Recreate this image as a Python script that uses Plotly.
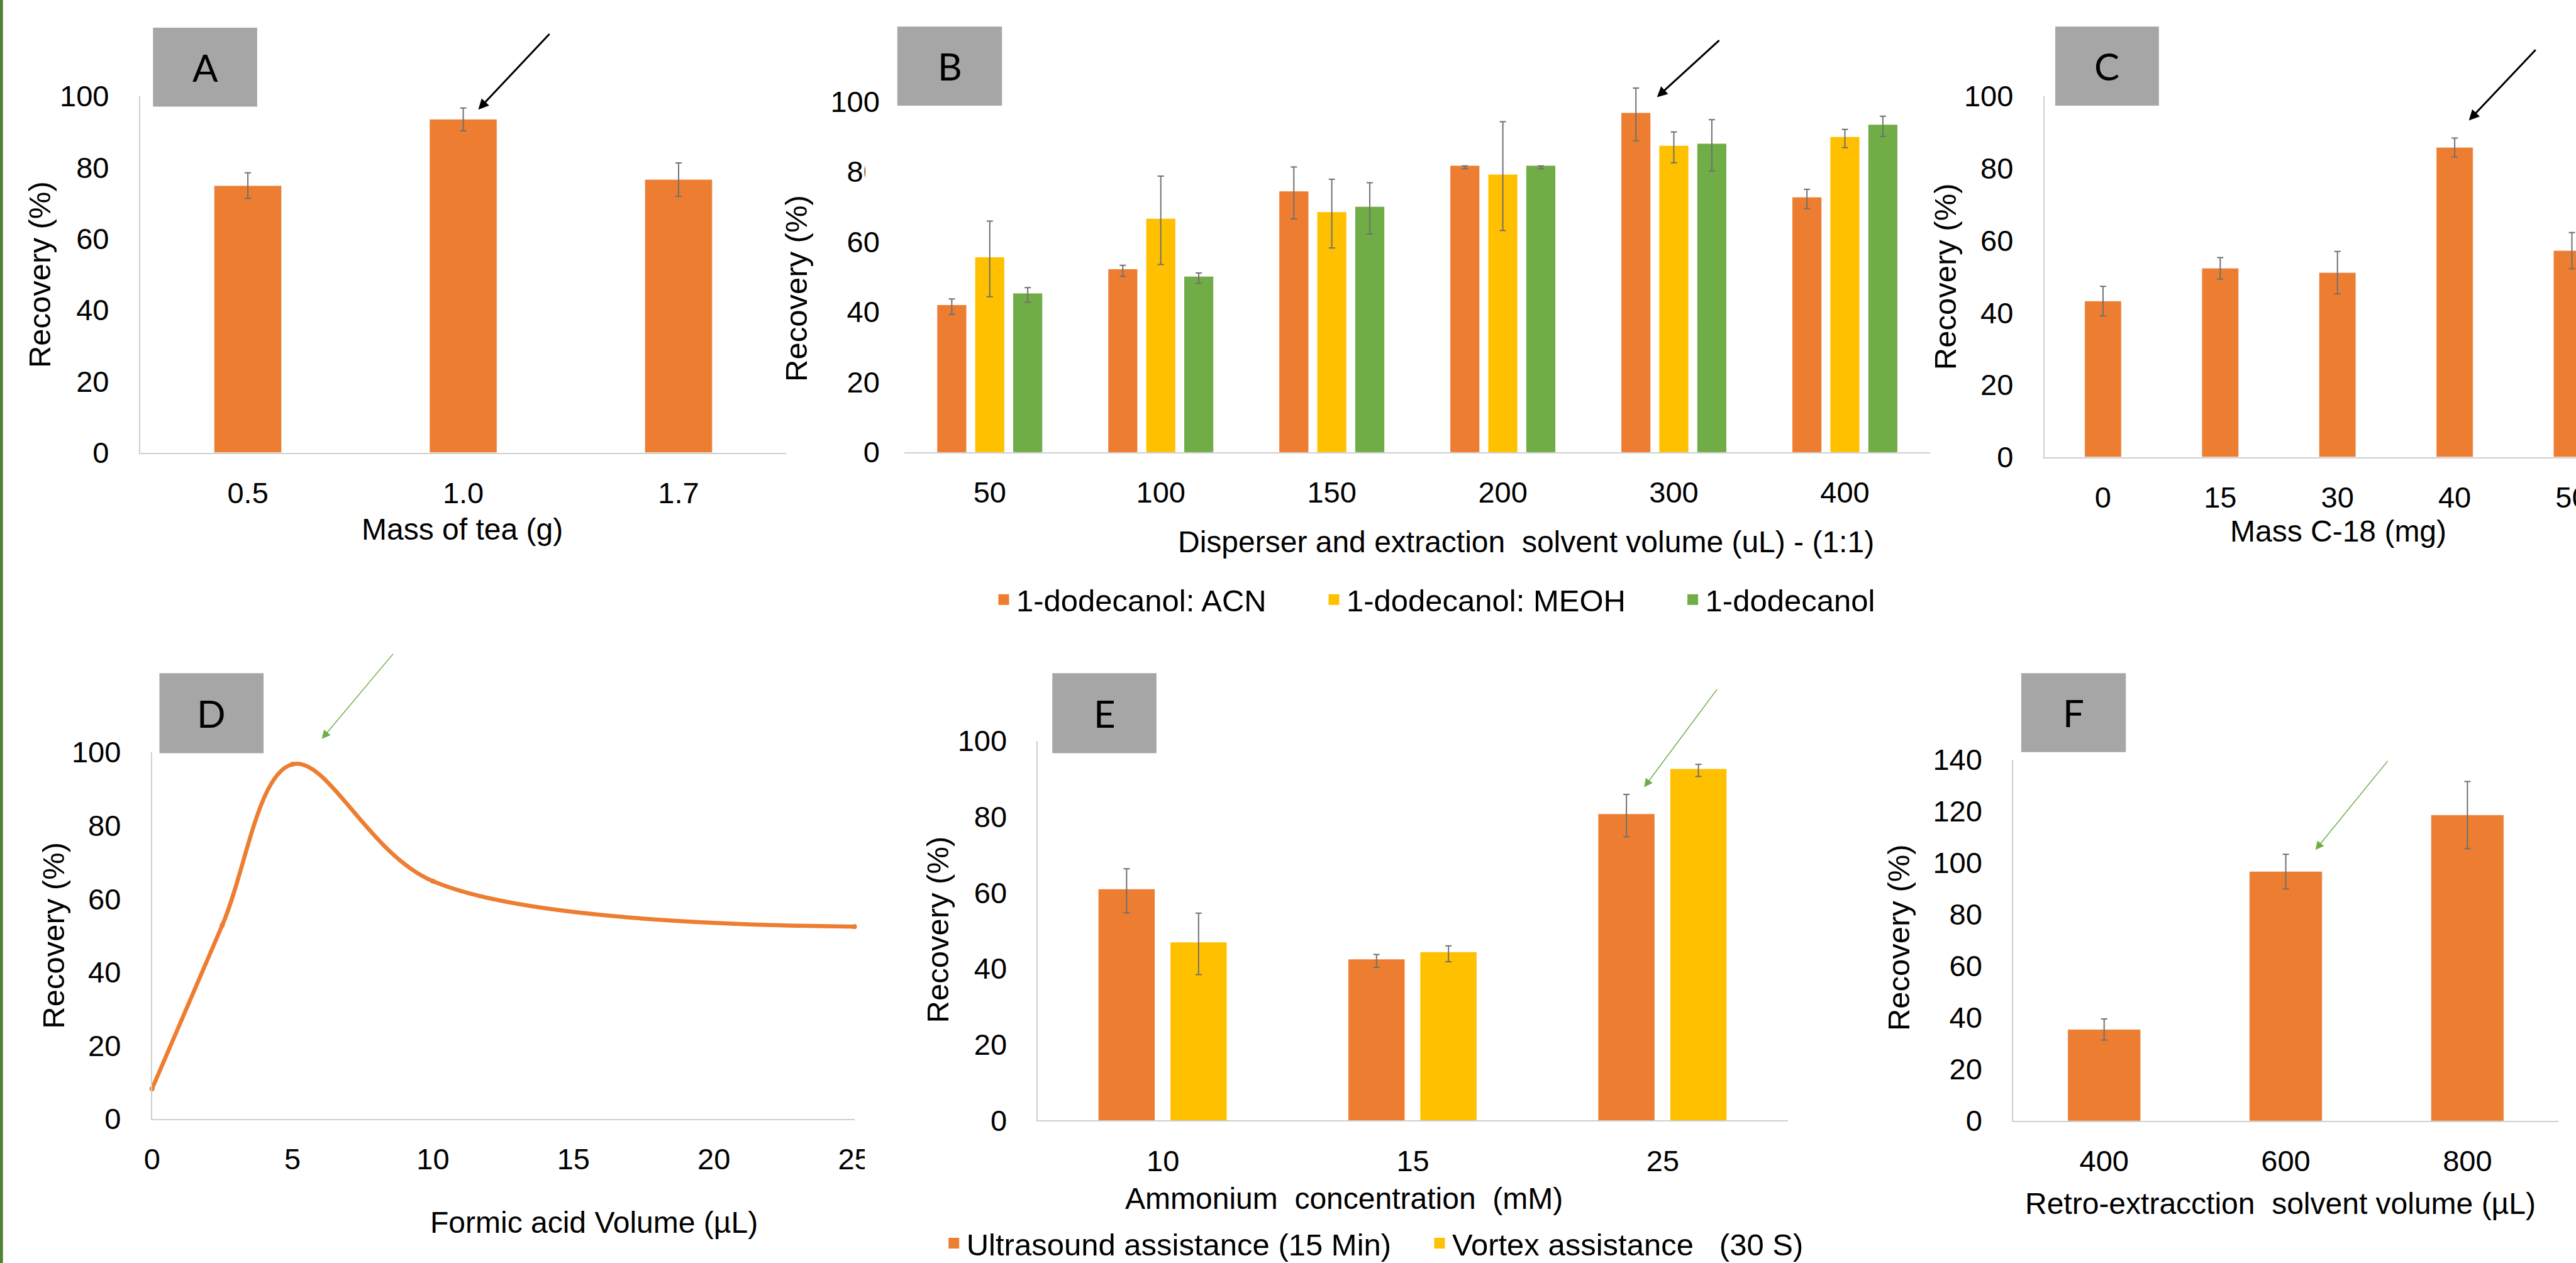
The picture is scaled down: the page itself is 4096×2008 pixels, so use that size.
import plotly.graph_objects as go

# ---------------- data ----------------
tea_mass = ["0.5", "1.0", "1.7"]
tea_recovery = [74.9, 93.5, 76.6]
tea_err = [3.6, 3.2, 4.7]

volume_cats = ["50", "100", "150", "200", "300", "400"]
acn_recovery = [41.5, 51.7, 73.9, 81.2, 96.3, 72.2]
acn_err = [2.2, 1.6, 7.4, 0.4, 7.5, 2.75]
meoh_recovery = [55.1, 66.1, 68.0, 78.7, 86.9, 89.4]
meoh_err = [10.8, 12.6, 9.8, 15.5, 4.4, 2.6]
dodec_recovery = [44.8, 49.6, 69.5, 81.2, 87.5, 92.9]
dodec_err = [2.1, 1.5, 7.3, 0.4, 7.3, 2.9]

c18_mass = ["0", "15", "30", "40", "50"]
c18_recovery = [43.2, 52.3, 51.1, 85.8, 57.2]
c18_err = [4.1, 3.0, 5.9, 2.6, 5.0]

formic_volume = [0, 2.5, 5, 10, 25]
formic_recovery = [8.2, 52.8, 96.7, 64.8, 52.4]

ammonium_cats = ["10", "15", "25"]
ultrasound_recovery = [60.5, 42.0, 80.3]
ultrasound_err = [5.8, 1.7, 5.6]
vortex_recovery = [46.5, 43.9, 92.2]
vortex_err = [8.1, 2.1, 1.6]

retro_volume = ["400", "600", "800"]
retro_recovery = [35.4, 96.6, 118.5]
retro_err = [4.1, 6.7, 13.0]

# ---------------- geometry helpers (reference pixel space) ----------------
W, H = 5219, 2559
S = 4096 / W


def px(v):
    return v * S


def fx(x):
    return x / W


def fy(y):
    return 1 - y / H


ORANGE = "#ED7D31"
YELLOW = "#FFC000"
GREEN = "#70AD47"
BOXGREY = "#A6A6A6"
AXIS = "#CFCFCF"
ERRC = "#707070"
FONT = "Liberation Sans, Arial, sans-serif"
TICK_SIZE = 47
TITLE_SIZE = 48
LEG_LINE = 5  # legend swatch enlargement (outline in same colour)


def err(arr):
    return dict(type="data", array=arr, visible=True, color=ERRC,
                thickness=2, width=5)


fig = go.Figure()

# A
fig.add_trace(go.Bar(x=tea_mass, y=tea_recovery, error_y=err(tea_err),
                     marker_color=ORANGE, width=0.312, offset=-0.156,
                     showlegend=False, xaxis="x", yaxis="y"))
# B  (category width = 2079/6 ref px)
b_cat_px = px((3911 - 1832) / 6)
b_shrink = LEG_LINE / b_cat_px
for name, vals, errs, col, off, lw in [
        ("1-dodecanol: ACN", acn_recovery, acn_err, ORANGE, -0.307, px(669) - 45),
        ("1-dodecanol: MEOH", meoh_recovery, meoh_err, YELLOW, -0.085, px(727) - 45),
        ("1-dodecanol", dodec_recovery, dodec_err, GREEN, 0.137, None)]:
    fig.add_trace(go.Bar(x=volume_cats, y=vals, error_y=err(errs), name=name,
                         marker=dict(color=col, line=dict(color=col, width=LEG_LINE)),
                         width=0.170 - b_shrink, offset=off + b_shrink / 2,
                         legend="legend", legendwidth=lw, xaxis="x2", yaxis="y2"))
# C
fig.add_trace(go.Bar(x=c18_mass, y=c18_recovery, error_y=err(c18_err),
                     marker_color=ORANGE, width=0.312, offset=-0.156,
                     showlegend=False, xaxis="x3", yaxis="y3"))
# D
fig.add_trace(go.Scatter(x=formic_volume, y=formic_recovery, mode="lines+markers",
                         line=dict(color=ORANGE, width=6.5, shape="spline", smoothing=1.0),
                         marker=dict(color=ORANGE, size=8),
                         cliponaxis=False, showlegend=False, xaxis="x4", yaxis="y4"))
# E
e_cat_px = px((3622 - 2103) / 3)
e_shrink = LEG_LINE / e_cat_px
for name, vals, errs, col, off, lw in [
        ("Ultrasound assistance (15 Min)", ultrasound_recovery, ultrasound_err, ORANGE, -0.258,
         px(984) - 45),
        ("Vortex assistance\u00a0\u00a0\u00a0(30 S)", vortex_recovery, vortex_err, YELLOW, 0.030,
         None)]:
    fig.add_trace(go.Bar(x=ammonium_cats, y=vals, error_y=err(errs), name=name,
                         marker=dict(color=col, line=dict(color=col, width=LEG_LINE)),
                         width=0.225 - e_shrink, offset=off + e_shrink / 2,
                         legend="legend2", legendwidth=lw, xaxis="x5", yaxis="y5"))
# F
fig.add_trace(go.Bar(x=retro_volume, y=retro_recovery, error_y=err(retro_err),
                     marker_color=ORANGE, width=0.40, offset=-0.2,
                     showlegend=False, xaxis="x6", yaxis="y6"))

# ---------------- axes ----------------
panels = [
    # key, x-left, x-right, y-top, y-bottom, xtype, xrange, yrange, ytick step, show y line
    ("", 284, 1593, 195, 917, "category", [-0.5, 2.5], [0, 100], 20, True),
    ("2", 1832, 3911, 170, 916, "category", [-0.5, 5.5], [0, 105], 20, False),
    ("3", 4142, 5219, 195, 926, "category", [-0.5, 4.035], [0, 100], 20, True),
    ("4", 308, 1731, 1524, 2267, "linear", [0, 25], [0, 100], 20, True),
    ("5", 2103, 3622, 1501, 2270, "category", [-0.5, 2.5], [0, 100], 20, True),
    ("6", 4079, 5183, 1539, 2271, "category", [-0.5, 2.5], [0, 140], 20, True),
]
for key, xl, xr, yt, yb, xtype, xr_, yr_, ystep, yline in panels:
    xa = dict(domain=[fx(xl), fx(xr)], anchor="y" + key, type=xtype, range=xr_,
              showgrid=False, zeroline=False, showline=True, linecolor=AXIS,
              linewidth=2, ticks="", ticklabelstandoff=22, automargin=False,
              tickfont=dict(family=FONT, size=TICK_SIZE, color="black"),
              fixedrange=True)
    if xtype == "linear":
        xa.update(tickmode="linear", tick0=0, dtick=5)
    ya = dict(domain=[fy(yb), fy(yt)], anchor="x" + key, range=yr_,
              tickmode="linear", tick0=0, dtick=ystep, automargin=False,
              showgrid=False, zeroline=False, showline=yline, linecolor=AXIS,
              linewidth=2, ticks="", ticklabelstandoff=38,
              tickfont=dict(family=FONT, size=TICK_SIZE, color="black"),
              fixedrange=True)
    fig.layout["xaxis" + key] = xa
    fig.layout["yaxis" + key] = ya

# ---------------- annotations: titles ----------------
annotations = []
x_titles = [
    ("Mass of tea (g)", 937, 1073),
    ("Disperser and extraction\u00a0 solvent volume (uL) - (1:1)", 3092, 1098),
    ("Mass C-18 (mg)", 4737, 1076),
    ("Formic acid Volume (\u00b5L)", 1203, 2477),
    ("Ammonium\u00a0 concentration\u00a0 (mM)", 2723, 2428),
    ("Retro-extracction\u00a0 solvent volume (\u00b5L)", 4620, 2439),
]
for t, x, y in x_titles:
    annotations.append(dict(text=t, x=fx(x), y=fy(y), xref="paper", yref="paper",
                            xanchor="center", yanchor="middle", showarrow=False,
                            font=dict(family=FONT, size=TITLE_SIZE, color="black")))
y_titles = [(80, 556), (1614, 584), (3942, 560), (108, 1895), (1900, 1884), (3847, 1900)]
for x, y in y_titles:
    annotations.append(dict(text="Recovery (%)", x=fx(x), y=fy(y), xref="paper",
                            yref="paper", xanchor="center", yanchor="middle",
                            textangle=-90, showarrow=False,
                            font=dict(family=FONT, size=49, color="black")))

# ---------------- panel letters ----------------
boxes = [("A", 310, 521, 56, 216), ("B", 1818, 2030, 54, 214), ("C", 4164, 4374, 54, 214),
         ("D", 323, 534, 1364, 1526), ("E", 2132, 2343, 1364, 1526), ("F", 4095, 4307, 1364, 1524)]
shapes = []
for letter, x0, x1, y0, y1 in boxes:
    shapes.append(dict(type="rect", xref="paper", yref="paper", x0=fx(x0), x1=fx(x1),
                       y0=fy(y1), y1=fy(y0), fillcolor=BOXGREY, line=dict(width=0),
                       layer="above"))
    annotations.append(dict(text=letter, x=fx((x0 + x1) / 2), y=fy((y0 + y1) / 2),
                            xref="paper", yref="paper", xanchor="center", yanchor="middle",
                            showarrow=False, font=dict(family="Lato, Open Sans, sans-serif",
                                                       size=60, color="black")))

# green page edge
shapes.append(dict(type="rect", xref="paper", yref="paper", x0=0, x1=fx(6), y0=0, y1=1,
                   fillcolor="#548235", line=dict(width=0), layer="above"))
# crop edges that cut labels in the original composite
shapes.append(dict(type="rect", xref="paper", yref="paper", x0=fx(1753), x1=fx(1800),
                   y0=fy(385), y1=fy(310), fillcolor="white", line=dict(width=0), layer="above"))
shapes.append(dict(type="rect", xref="paper", yref="paper", x0=fx(1752), x1=fx(1800),
                   y0=fy(2395), y1=fy(2300), fillcolor="white", line=dict(width=0), layer="above"))

# ---------------- arrows ----------------
arrows = [
    (1115, 67, 969, 222, "black", 3.0, 1.1),
    (3485, 80, 3357, 197, "black", 3.0, 1.1),
    (5139, 99, 5002, 244, "black", 3.0, 1.1),
    (798, 1323, 652, 1497, GREEN, 1.5, 1.8),
    (3480, 1395, 3331, 1595, GREEN, 1.5, 1.8),
    (4839, 1540, 4691, 1722, GREEN, 1.5, 1.8),
]
for tx, ty, hx, hy, col, w, sz in arrows:
    annotations.append(dict(text="", x=fx(hx), y=fy(hy), xref="paper", yref="paper",
                            ax=px(tx - hx), ay=px(ty - hy), axref="pixel", ayref="pixel",
                            showarrow=True, arrowhead=2, arrowsize=sz, arrowwidth=w,
                            arrowcolor=col, standoff=0))

fig.update_layout(
    width=4096, height=2008,
    margin=dict(l=0, r=0, t=0, b=0, autoexpand=False),
    paper_bgcolor="white", plot_bgcolor="white",
    barmode="overlay",
    font=dict(family=FONT, size=TICK_SIZE, color="black"),
    annotations=annotations, shapes=shapes,
    legend=dict(orientation="h", x=(px(2059) - 40) / 4096, y=fy(1215), xref="container",
                yref="container", xanchor="left", yanchor="middle",
                font=dict(family=FONT, size=49, color="black"), bgcolor="rgba(0,0,0,0)",
                itemwidth=30, traceorder="normal"),
    legend2=dict(orientation="h", x=(px(1958) - 40) / 4096, y=fy(2519), xref="container",
                 yref="container", xanchor="left", yanchor="middle",
                 font=dict(family=FONT, size=49, color="black"), bgcolor="rgba(0,0,0,0)",
                 itemwidth=30, traceorder="normal"),
)

fig.write_html("out.html", config={"displayModeBar": False},
               post_script="document.body.style.margin='0';")
